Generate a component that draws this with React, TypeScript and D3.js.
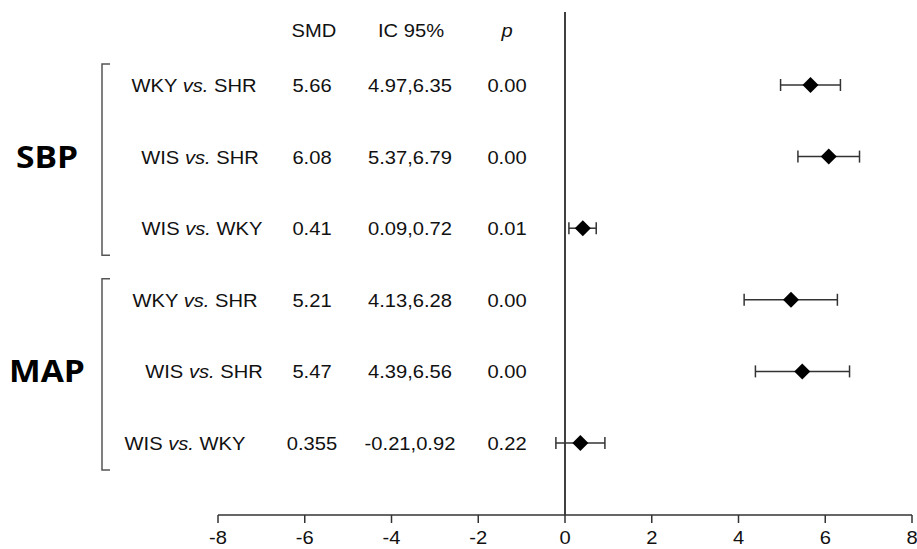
import React from "react";
import * as d3 from "d3";

const groups = ["SBP", "MAP"];
const rowGroup = ["SBP", "SBP", "SBP", "MAP", "MAP", "MAP"];
const rowFirst = ["WKY", "WIS", "WIS", "WKY", "WIS", "WIS"];
const rowSecond = ["SHR", "SHR", "WKY", "SHR", "SHR", "WKY"];
const smd = [5.66, 6.08, 0.41, 5.21, 5.47, 0.355];
const smdLabels = ["5.66", "6.08", "0.41", "5.21", "5.47", "0.355"];
const ciLow = [4.97, 5.37, 0.09, 4.13, 4.39, -0.21];
const ciHigh = [6.35, 6.79, 0.72, 6.28, 6.56, 0.92];
const ciLabels = ["4.97,6.35", "5.37,6.79", "0.09,0.72", "4.13,6.28", "4.39,6.56", "-0.21,0.92"];
const pLabels = ["0.00", "0.00", "0.01", "0.00", "0.00", "0.22"];
const xTicks = [-8, -6, -4, -2, 0, 2, 4, 6, 8];

// layout nudges (horizontal offsets of row labels to mimic original)
const labelShift = [-3, 3, 5, -2, 7, -12];

const W = 917;
const H = 549;
const SX = 1.12;

export default function App() {
  const x = d3.scaleLinear().domain([-8, 8]).range([218, 912]);
  const rows = d3.range(smd.length);
  const y = d3.scalePoint<number>().domain(rows).range([85, 443]);
  const axisY = 515;
  const font = "'Liberation Sans', Arial, sans-serif";
  const fs = 18;
  const txt = (tx: number, ty: number, content: React.ReactNode, key: string, extra: any = {}) => (
    <text
      key={key}
      transform={`translate(${tx},${ty}) scale(${SX},1)`}
      textAnchor="middle"
      fontFamily={font}
      fontSize={fs}
      fill="#111"
      {...extra}
    >
      {content}
    </text>
  );
  const groupRows = (g: string) => rows.filter((i) => rowGroup[i] === g);
  const d = 8;
  return (
    <svg width={W} height={H} style={{ position: "absolute", left: 0, top: 0, background: "#fff" }}>
      {/* headers */}
      {txt(314, 37, "SMD", "h1")}
      {txt(411, 37, "IC 95%", "h2")}
      {txt(507, 37, "p", "h3", { fontStyle: "italic" })}

      {/* group labels and brackets */}
      {groups.map((g) => {
        const gr = groupRows(g);
        const top = (y(gr[0]) as number) - 21;
        const bot = (y(gr[gr.length - 1]) as number) + 27;
        const mid = y(gr[1]) as number;
        return (
          <g key={g}>
            <path
              d={`M110,${top}H102V${bot}H110`}
              fill="none"
              stroke="#555"
              strokeWidth={1.5}
            />
            <text
              transform={`translate(47,${mid + 11}) scale(${SX},1)`}
              textAnchor="middle"
              fontFamily="'Open Sans', sans-serif"
              fontWeight="bold"
              fontSize={30}
              fill="#000"
            >
              {g}
            </text>
          </g>
        );
      })}

      {/* rows text */}
      {rows.map((i) => {
        const yy = (y(i) as number) + 7;
        return (
          <g key={"r" + i}>
            {txt(
              197 + labelShift[i],
              yy,
              <>
                {rowFirst[i] + " "}
                <tspan fontStyle="italic">vs.</tspan>
                {" " + rowSecond[i]}
              </>,
              "l" + i
            )}
            {txt(312, yy, smdLabels[i], "s" + i)}
            {txt(410, yy, ciLabels[i], "c" + i)}
            {txt(507, yy, pLabels[i], "p" + i)}
          </g>
        );
      })}

      {/* zero line */}
      <line x1={x(0)} x2={x(0)} y1={12} y2={axisY} stroke="#000" strokeWidth={1.5} />

      {/* error bars and diamonds */}
      {rows.map((i) => {
        const yy = y(i) as number;
        const cx = x(smd[i]);
        return (
          <g key={"m" + i}>
            <line x1={x(ciLow[i])} x2={x(ciHigh[i])} y1={yy} y2={yy} stroke="#333" strokeWidth={1.5} />
            <line x1={x(ciLow[i])} x2={x(ciLow[i])} y1={yy - 6} y2={yy + 6} stroke="#333" strokeWidth={1.5} />
            <line x1={x(ciHigh[i])} x2={x(ciHigh[i])} y1={yy - 6} y2={yy + 6} stroke="#333" strokeWidth={1.5} />
            <path d={`M${cx},${yy - d}L${cx + d},${yy}L${cx},${yy + d}L${cx - d},${yy}Z`} fill="#000" />
          </g>
        );
      })}

      {/* x axis */}
      <line x1={x(-8)} x2={x(8)} y1={axisY} y2={axisY} stroke="#333" strokeWidth={1.5} />
      {xTicks.map((t) => (
        <g key={"t" + t}>
          <line x1={x(t)} x2={x(t)} y1={axisY} y2={axisY + 8} stroke="#333" strokeWidth={1.5} />
          {txt(x(t), 544, String(t), "tl" + t)}
        </g>
      ))}
    </svg>
  );
}
